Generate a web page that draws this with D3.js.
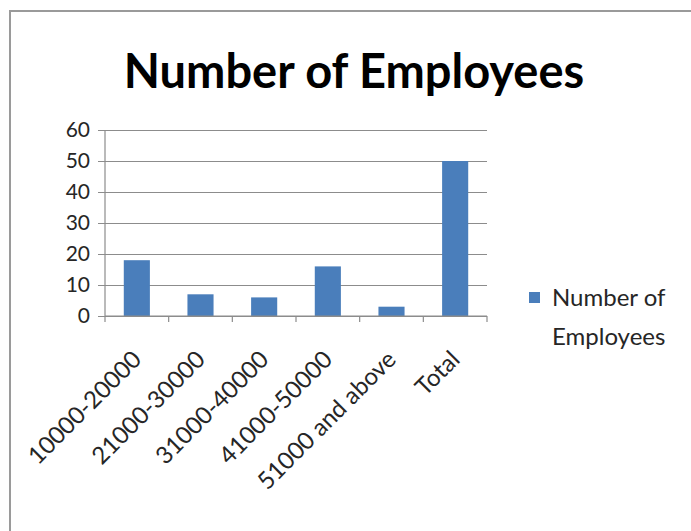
<!DOCTYPE html>
<html>
<head>
<meta charset="utf-8">
<script src="https://cdn.jsdelivr.net/npm/d3@7"></script>
<style>
  html, body { margin: 0; padding: 0; background: #fff; }
  svg { display: block; }
  text { font-family: Lato, "Open Sans", sans-serif; fill: #262626; }
</style>
</head>
<body>
<svg id="chart" width="691" height="531"></svg>
<script>
// Salary bands and head counts
const categories = ["10000-20000", "21000-30000", "31000-40000", "41000-50000", "51000 and above", "Total"];
const employees = [18, 7, 6, 16, 3, 50];
const yTicks = [0, 10, 20, 30, 40, 50, 60];
const seriesName = "Number of Employees";

const svg = d3.select("#chart");
const W = 691, H = 531;
const plot = { left: 105, right: 487, top: 130, bottom: 316 };
const barColor = "#4a7ebb";
const gridColor = "#8c8c8c";

// chart frame
svg.append("rect")
  .attr("x", 10).attr("y", 11)
  .attr("width", W + 10).attr("height", H + 10)
  .attr("fill", "#fff")
  .attr("stroke", "#9a9a9a").attr("stroke-width", 2);

// title
svg.append("text")
  .attr("x", 354).attr("y", 88)
  .attr("text-anchor", "middle")
  .attr("font-size", 47).attr("font-weight", 700)
  .style("fill", "#000")
  .text(seriesName);

const x = d3.scaleBand().domain(categories).range([plot.left, plot.right]).paddingInner(0.59).paddingOuter(0.295);
const xb = d3.scaleBand().domain(categories).range([plot.left, plot.right]);
const y = d3.scaleLinear().domain([0, 60]).range([plot.bottom, plot.top]);

// y axis with gridlines
const yAxis = d3.axisLeft(y).tickValues(yTicks).tickSize(plot.right - plot.left + 7).tickSizeOuter(0);
const gy = svg.append("g").attr("transform", `translate(${plot.right},0)`).call(yAxis);
gy.select(".domain").remove();
gy.selectAll(".tick line").attr("stroke", gridColor).attr("stroke-width", 1.2);
gy.selectAll(".tick text")
  .attr("font-size", 21).style("fill", "#262626")
  .attr("x", -(plot.right - plot.left) - 15);

// y axis line
svg.append("line")
  .attr("x1", plot.left).attr("x2", plot.left)
  .attr("y1", plot.top).attr("y2", plot.bottom)
  .attr("stroke", gridColor).attr("stroke-width", 1.2);

// bars
svg.append("g").selectAll("rect")
  .data(categories)
  .join("rect")
  .attr("x", d => x(d))
  .attr("width", x.bandwidth())
  .attr("y", (d, i) => y(employees[i]))
  .attr("height", (d, i) => y(0) - y(employees[i]))
  .attr("fill", barColor);

// x axis line and category boundary ticks
svg.append("line")
  .attr("x1", plot.left).attr("x2", plot.right)
  .attr("y1", plot.bottom).attr("y2", plot.bottom)
  .attr("stroke", gridColor).attr("stroke-width", 1.2);
const bounds = categories.map(c => xb(c)).concat([plot.right]);
svg.append("g").selectAll("line")
  .data(bounds)
  .join("line")
  .attr("x1", d => d).attr("x2", d => d)
  .attr("y1", plot.bottom).attr("y2", plot.bottom + 6)
  .attr("stroke", gridColor).attr("stroke-width", 1.2);

// rotated category labels
svg.append("g").selectAll("text")
  .data(categories)
  .join("text")
  .attr("transform", d => `translate(${xb(d) + xb.bandwidth() / 2 + 6},${plot.bottom + 45}) rotate(-45)`)
  .attr("text-anchor", "end")
  .attr("font-size", 24)
  .text(d => d);

// legend
const lg = svg.append("g").attr("transform", "translate(529,292)");
lg.append("rect").attr("width", 11).attr("height", 11).attr("fill", barColor);
lg.append("text").attr("x", 23).attr("y", 14).attr("font-size", 24).text("Number of");
lg.append("text").attr("x", 23).attr("y", 53).attr("font-size", 24).text("Employees");
</script>
</body>
</html>
